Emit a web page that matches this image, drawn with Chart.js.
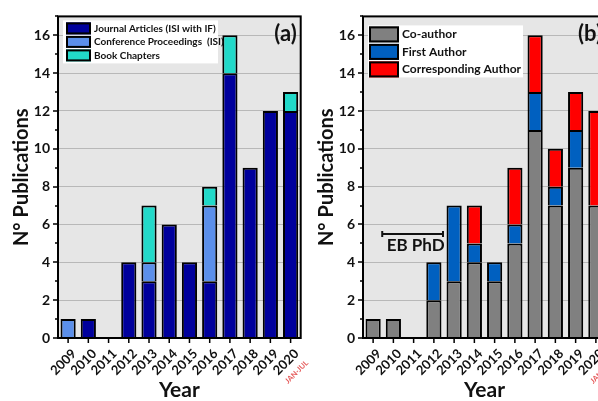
<!DOCTYPE html>
<html><head><meta charset="utf-8">
<script src="https://cdn.jsdelivr.net/npm/chart.js@4.4.0/dist/chart.umd.min.js"></script>
<style>
html,body{margin:0;padding:0;background:#fff;overflow:hidden;width:598px;height:401px;}
#wrapA{position:absolute;left:0;top:0;width:310px;height:401px;}
#wrapB{position:absolute;left:300px;top:0;width:320px;height:401px;}
canvas{display:block;}
</style></head><body>
<div id="wrapA"><canvas id="cA" width="310" height="401"></canvas></div>
<div id="wrapB"><canvas id="cB" width="320" height="401"></canvas></div>
<script>
// ---- data ----
const years = ['2009','2010','2011','2012','2013','2014','2015','2016','2017','2018','2019','2020'];
const journalArticles = [0,1,0,4,3,6,4,3,14,9,12,12];
const conferenceProceedings = [1,0,0,0,1,0,0,4,0,0,0,0];
const bookChapters = [0,0,0,0,3,0,0,1,2,0,0,1];
const coAuthor = [1,1,0,2,3,4,3,5,11,7,9,7];
const firstAuthor = [0,0,0,2,4,1,1,1,2,1,2,0];
const correspondingAuthor = [0,0,0,0,0,2,0,3,3,2,2,5];
const yMax = 17;
const partialYearNote = 'JAN-JUL';
const phdLabel = 'EB PhD';
const phdSpan = [0.45, 3.45];   // category index range
const phdLevel = 5.5;

const FONT = 'Lato, "Open Sans", sans-serif';
const INK = '#111';

const bgPlugin = {
  id: 'bg',
  beforeDraw(chart) {
    const {ctx, chartArea: a} = chart;
    ctx.save();
    ctx.fillStyle = '#e6e6e6';
    ctx.fillRect(a.left, a.top, a.right - a.left, a.bottom - a.top);
    ctx.restore();
  }
};

const framePlugin = {
  id: 'frame',
  afterDatasetsDraw(chart, args, o) {
    const {ctx, chartArea: a, scales: {x, y}} = chart;
    ctx.save();
    ctx.strokeStyle = '#000';
    ctx.lineWidth = 2;
    ctx.strokeRect(a.left, a.top, a.right - a.left, a.bottom - a.top);
    ctx.lineWidth = 1.5;
    ctx.beginPath();
    for (let v = 0; v <= yMax; v++) {
      const py = Math.round(y.getPixelForValue(v)) ;
      const len = v % 2 === 0 ? 5 : 3;
      ctx.moveTo(a.left - len, py); ctx.lineTo(a.left, py);
    }
    for (let i = 0; i < years.length; i++) {
      const px = x.getPixelForTick(i);
      ctx.moveTo(px, a.bottom); ctx.lineTo(px, a.bottom + 5);
    }
    ctx.stroke();
    // panel letter
    ctx.fillStyle = INK;
    ctx.font = 'bold 22px ' + FONT;
    ctx.textAlign = 'right';
    ctx.textBaseline = 'middle';
    ctx.fillText(o.letter, a.right - 4, a.top + 18);
    // partial year note
    const last = x.getPixelForTick(years.length - 1);
    ctx.translate(last + 6, a.bottom + 34);
    ctx.rotate(-Math.PI / 4);
    ctx.font = 'bold 7.5px ' + FONT;
    ctx.fillStyle = '#e55a5a';
    ctx.textAlign = 'center';
    ctx.fillText(partialYearNote, 0, 0);
    ctx.restore();
  }
};

const legendPlugin = {
  id: 'boxLegend',
  afterDatasetsDraw(chart, args, o) {
    const {ctx, chartArea: a} = chart;
    ctx.save();
    const bx = a.left + o.dx, by = a.top + o.dy;
    ctx.fillStyle = '#fff';
    ctx.fillRect(bx, by, o.w, o.h);
    ctx.font = 'bold ' + o.fontSize + 'px ' + FONT;
    ctx.textBaseline = 'middle';
    ctx.textAlign = 'left';
    chart.data.datasets.forEach((ds, i) => {
      const cy = by + o.first + i * o.row;
      const sx = bx + o.sx;
      ctx.fillStyle = ds.backgroundColor;
      ctx.fillRect(sx, cy - o.sh / 2, o.sw, o.sh);
      ctx.strokeStyle = '#000';
      ctx.lineWidth = 2;
      ctx.strokeRect(sx + 1, cy - o.sh / 2 + 1, o.sw - 2, o.sh - 2);
      ctx.fillStyle = INK;
      ctx.fillText(ds.label, sx + o.sw + 3, cy);
    });
    ctx.restore();
  }
};

const phdPlugin = {
  id: 'phd',
  afterDatasetsDraw(chart, args, o) {
    if (!o.show) return;
    const {ctx, scales: {x, y}} = chart;
    const step = x.getPixelForTick(1) - x.getPixelForTick(0);
    const x0 = x.getPixelForTick(0) + phdSpan[0] * step;
    const x1 = x.getPixelForTick(0) + phdSpan[1] * step;
    const py = y.getPixelForValue(phdLevel);
    ctx.save();
    ctx.strokeStyle = '#111';
    ctx.lineWidth = 2;
    ctx.beginPath();
    ctx.moveTo(x0, py); ctx.lineTo(x1, py);
    ctx.moveTo(x0, py - 3); ctx.lineTo(x0, py + 3);
    ctx.moveTo(x1, py - 3); ctx.lineTo(x1, py + 3);
    ctx.stroke();
    ctx.fillStyle = INK;
    ctx.font = 'bold 17px ' + FONT;
    ctx.textAlign = 'center';
    ctx.textBaseline = 'middle';
    ctx.fillText(phdLabel, (x0 + x1) / 2 + 3, py + 12);
    ctx.restore();
  }
};

function ds(label, data, color) {
  return {label, data, backgroundColor: color, borderColor: '#000', borderWidth: 2,
          borderSkipped: 'bottom', barPercentage: 0.75, categoryPercentage: 1};
}

function makeChart(id, datasets, padLeft, padRight, letter, legendOpts, phd) {
  return new Chart(document.getElementById(id), {
    type: 'bar',
    data: {labels: years, datasets},
    plugins: [bgPlugin, framePlugin, legendPlugin, phdPlugin],
    options: {
      responsive: false, animation: false,
      layout: {padding: {top: 15, right: padRight, left: padLeft, bottom: 0}},
      plugins: {legend: {display: false}, tooltip: {enabled: false},
        frame: {letter}, boxLegend: legendOpts, phd: {show: phd}},
      scales: {
        x: {stacked: true, offset: true,
          grid: {display: false, drawTicks: false}, border: {display: false},
          ticks: {autoSkip: false, minRotation: 45, maxRotation: 45, padding: 8, labelOffset: 6,
            color: INK, font: {family: FONT, weight: 'bold', size: 13}},
          title: {display: true, text: 'Year', color: INK, padding: 0,
            font: {family: FONT, weight: 'bold', size: 21, lineHeight: 1}},
          afterFit: s => { s.height = 63; }
        },
        y: {stacked: true, min: 0, max: yMax,
          grid: {color: '#b8b8b8', lineWidth: 1, drawTicks: false}, border: {display: false},
          ticks: {stepSize: 1, padding: 8, color: INK,
            callback: v => (v % 2 === 0 ? v : ''),
            font: {family: FONT, weight: 'bold', size: 14}},
          title: {display: true, text: 'N° Publications', color: INK, padding: {top: 10, bottom: 0},
            font: {family: FONT, weight: 'bold', size: 20, lineHeight: 1.2}},
          afterFit: s => { s.width = 58; }
        }
      }
    }
  });
}

makeChart('cA', [
  ds('Journal Articles (ISI with IF)', journalArticles, '#00009c'),
  ds('Conference Proceedings  (ISI)', conferenceProceedings, '#5b8fea'),
  ds('Book Chapters', bookChapters, '#22d9c9')
], 0, 9, '(a)', {dx: 5, dy: 4, w: 155, h: 43, sx: 3, sw: 25, sh: 12, first: 8, row: 13.5, fontSize: 10}, false);

makeChart('cB', [
  ds('Co-author', coAuthor, '#808080'),
  ds('First Author', firstAuthor, '#0060c0'),
  ds('Corresponding Author', correspondingAuthor, '#ff0000')
], 5, 14, '(b)', {dx: 5, dy: 9, w: 155, h: 52, sx: 1, sw: 30, sh: 16, first: 9, row: 17.5, fontSize: 12}, true);
</script>
</body></html>
